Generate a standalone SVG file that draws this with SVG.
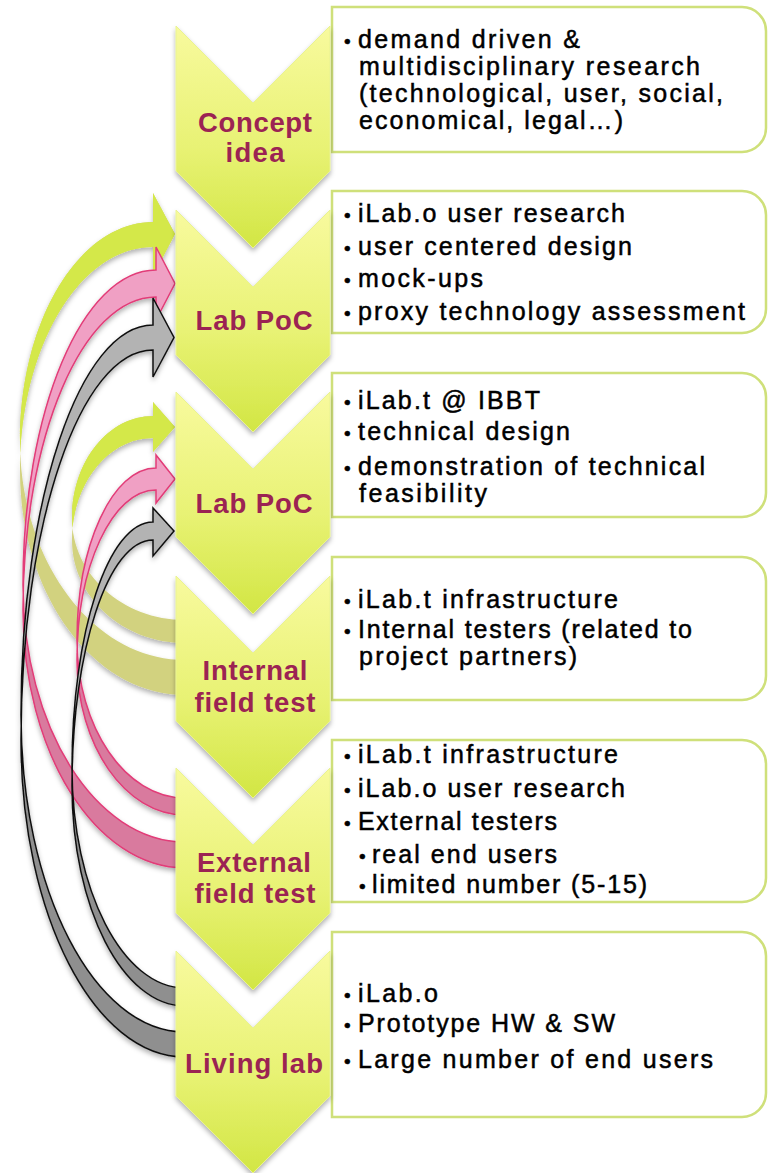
<svg xmlns="http://www.w3.org/2000/svg" xmlns:xlink="http://www.w3.org/1999/xlink" width="768" height="1173" viewBox="0 0 768 1173">
<defs>
<linearGradient id="chevFill" x1="0" y1="0" x2="0" y2="1">
<stop offset="0" stop-color="#f8fa9e"/>
<stop offset="0.55" stop-color="#e8f274"/>
<stop offset="1" stop-color="#d2e644"/>
</linearGradient>
<filter id="shadow" x="-20%" y="-20%" width="140%" height="140%">
<feDropShadow dx="0" dy="3" stdDeviation="2.5" flood-color="#000" flood-opacity="0.3"/>
</filter>
<clipPath id="cG1"><rect x="0" y="0" width="200" height="456"/></clipPath>
<clipPath id="cG2"><rect x="0" y="0" width="200" height="529"/></clipPath>
<clipPath id="cP1"><rect x="0" y="0" width="200" height="597"/></clipPath>
<clipPath id="cP2"><rect x="0" y="0" width="200" height="650"/></clipPath>
<clipPath id="cK1"><rect x="0" y="0" width="200" height="727"/></clipPath>
<clipPath id="cK2"><rect x="0" y="0" width="200" height="777"/></clipPath>
<path id="pG1" d="M153,222 C79.5,222 20,320 20,441 C20,562 93.9,660 185,660 L185,695 C93.9,695 20,594.7 20,471 C20,347.3 79.5,247 153,247 L153,276 L175,234 L153,193 Z"/>
<path id="pG2" d="M153,416 C108.3,416 72,461.7 72,518 C72,574.3 122.6,620 185,620 L185,643 C122.6,643 72,596.9 72,540 C72,483.7 108.3,438 153,438 L153,452 L175,427 L153,402 Z"/>
<path id="pP1" d="M156,270 C82.5,270 23,411 23,585 C23,726.9 95.5,842 185,842 L185,868 C95.5,868 23,752.5 23,610 C23,437.1 82.5,297 156,297 L156,320 L175,283.5 L156,247 Z"/>
<path id="pP2" d="M156,468 C112.4,468 77,545 77,640 C77,727.3 125.4,798 185,798 L185,815 C125.4,815 77,745.6 77,660 C77,566.1 112.4,490 156,490 L156,503 L175,479 L156,455 Z"/>
<path id="pK1" d="M153,325 C80.1,325 21,499.6 21,715 C21,890.1 94.4,1032 185,1032 L185,1057 C94.4,1057 21,915.1 21,740 C21,524.6 80.1,350 153,350 L153,377 L174,337.5 L153,298 Z"/>
<path id="pK2" d="M153,522 C108.3,522 72,632.1 72,768 C72,889.5 122.6,988 185,988 L185,1006 C122.6,1006 72,907.5 72,786 C72,650.1 108.3,540 153,540 L153,556 L174,531 L153,508 Z"/>
<style>
.box{fill:#ffffff;stroke:#cfe07a;stroke-width:2.5}
.chev{fill:url(#chevFill);stroke:#e9f392;stroke-width:1;filter:url(#shadow)}
.lab{font-family:"Liberation Sans",Arial,sans-serif;font-weight:bold;font-size:27.5px;fill:#9b2353;text-anchor:middle}
.t{font-family:"Liberation Sans",Arial,sans-serif;font-size:25px;fill:#000000;stroke:#000000;stroke-width:0.5}
.b{font-size:19px}
.gD{fill:#d2d27f}
.gL{fill:#d4e84a}
.pD{fill:#d97a9e}
.pL{fill:#f0a0c4}
.pS{fill:none;stroke:#e23c78;stroke-width:1.5}
.kD{fill:#8f8f8f}
.kL{fill:#b3b3b3}
.kS{fill:none;stroke:#111111;stroke-width:1.5}
</style>
</defs>
<rect width="768" height="1173" fill="#ffffff"/>

<g id="boxes">
<path id="box1" class="box" d="M332,7 H742 A24,24 0 0 1 766,31 V128 A24,24 0 0 1 742,152 H332 Z"/>
<path id="box2" class="box" d="M332,191 H742 A24,24 0 0 1 766,215 V309 A24,24 0 0 1 742,333 H332 Z"/>
<path id="box3" class="box" d="M332,373 H742 A24,24 0 0 1 766,397 V493 A24,24 0 0 1 742,517 H332 Z"/>
<path id="box4" class="box" d="M332,557 H742 A24,24 0 0 1 766,581 V676 A24,24 0 0 1 742,700 H332 Z"/>
<path id="box5" class="box" d="M332,740 H742 A24,24 0 0 1 766,764 V878 A24,24 0 0 1 742,902 H332 Z"/>
<path id="box6" class="box" d="M332,932 H742 A24,24 0 0 1 766,956 V1093 A24,24 0 0 1 742,1117 H332 Z"/>
</g>

<g id="box-texts">
<g id="text1">
<text class="t" y="48"><tspan class="b" x="344">•</tspan><tspan x="358" textLength="222" lengthAdjust="spacing">demand driven &amp;</tspan></text>
<text class="t" y="75"><tspan x="359" textLength="341" lengthAdjust="spacing">multidisciplinary research</tspan></text>
<text class="t" y="102"><tspan x="359" textLength="364" lengthAdjust="spacing">(technological, user, social,</tspan></text>
<text class="t" y="129"><tspan x="359" textLength="264" lengthAdjust="spacing">economical, legal…)</tspan></text>
</g>
<g id="text2">
<text class="t" y="222"><tspan class="b" x="344">•</tspan><tspan x="358" textLength="267" lengthAdjust="spacing">iLab.o user research</tspan></text>
<text class="t" y="255"><tspan class="b" x="344">•</tspan><tspan x="358" textLength="274" lengthAdjust="spacing">user centered design</tspan></text>
<text class="t" y="287"><tspan class="b" x="344">•</tspan><tspan x="358" textLength="125" lengthAdjust="spacing">mock-ups</tspan></text>
<text class="t" y="320"><tspan class="b" x="344">•</tspan><tspan x="358" textLength="387" lengthAdjust="spacing">proxy technology assessment</tspan></text>
</g>
<g id="text3">
<text class="t" y="409"><tspan class="b" x="344">•</tspan><tspan x="358" textLength="182" lengthAdjust="spacing">iLab.t @ IBBT</tspan></text>
<text class="t" y="440"><tspan class="b" x="344">•</tspan><tspan x="358" textLength="212" lengthAdjust="spacing">technical design</tspan></text>
<text class="t" y="475"><tspan class="b" x="344">•</tspan><tspan x="358" textLength="347" lengthAdjust="spacing">demonstration of technical</tspan></text>
<text class="t" y="502"><tspan x="359" textLength="128" lengthAdjust="spacing">feasibility</tspan></text>
</g>
<g id="text4">
<text class="t" y="608"><tspan class="b" x="344">•</tspan><tspan x="358" textLength="260" lengthAdjust="spacing">iLab.t infrastructure</tspan></text>
<text class="t" y="638"><tspan class="b" x="344">•</tspan><tspan x="358" textLength="334" lengthAdjust="spacing">Internal testers (related to</tspan></text>
<text class="t" y="665"><tspan x="359" textLength="218" lengthAdjust="spacing">project partners)</tspan></text>
</g>
<g id="text5">
<text class="t" y="763"><tspan class="b" x="344">•</tspan><tspan x="358" textLength="260" lengthAdjust="spacing">iLab.t infrastructure</tspan></text>
<text class="t" y="797"><tspan class="b" x="344">•</tspan><tspan x="358" textLength="267" lengthAdjust="spacing">iLab.o user research</tspan></text>
<text class="t" y="830"><tspan class="b" x="344">•</tspan><tspan x="358" textLength="199" lengthAdjust="spacing">External testers</tspan></text>
<text class="t" y="863"><tspan class="b" x="359">•</tspan><tspan x="372" textLength="185" lengthAdjust="spacing">real end users</tspan></text>
<text class="t" y="893"><tspan class="b" x="359">•</tspan><tspan x="372" textLength="275" lengthAdjust="spacing">limited number (5-15)</tspan></text>
</g>
<g id="text6">
<text class="t" y="1002"><tspan class="b" x="344">•</tspan><tspan x="358" textLength="80" lengthAdjust="spacing">iLab.o</tspan></text>
<text class="t" y="1032"><tspan class="b" x="344">•</tspan><tspan x="358" textLength="257" lengthAdjust="spacing">Prototype HW &amp; SW</tspan></text>
<text class="t" y="1068"><tspan class="b" x="344">•</tspan><tspan x="358" textLength="355" lengthAdjust="spacing">Large number of end users</tspan></text>
</g>
</g>

<g id="connectors" filter="url(#shadow)">
<g id="arrow-internal-to-labpoc1">
<use xlink:href="#pG1" class="gD"/>
<use xlink:href="#pG1" class="gL" clip-path="url(#cG1)"/>
</g>
<g id="arrow-internal-to-labpoc2">
<use xlink:href="#pG2" class="gD"/>
<use xlink:href="#pG2" class="gL" clip-path="url(#cG2)"/>
</g>
<g id="arrow-external-to-labpoc1">
<use xlink:href="#pP1" class="pD"/>
<use xlink:href="#pP1" class="pL" clip-path="url(#cP1)"/>
<use xlink:href="#pP1" class="pS"/>
</g>
<g id="arrow-external-to-labpoc2">
<use xlink:href="#pP2" class="pD"/>
<use xlink:href="#pP2" class="pL" clip-path="url(#cP2)"/>
<use xlink:href="#pP2" class="pS"/>
</g>
<g id="arrow-living-to-labpoc1">
<use xlink:href="#pK1" class="kD"/>
<use xlink:href="#pK1" class="kL" clip-path="url(#cK1)"/>
<use xlink:href="#pK1" class="kS"/>
</g>
<g id="arrow-living-to-labpoc2">
<use xlink:href="#pK2" class="kD"/>
<use xlink:href="#pK2" class="kL" clip-path="url(#cK2)"/>
<use xlink:href="#pK2" class="kS"/>
</g>
</g>

<g id="concept-idea">
<polygon class="chev" points="176,26 253,103 330,26 330,171 253,248 176,171"/>
<text class="lab" x="255" y="132" textLength="114" lengthAdjust="spacing">Concept</text>
<text class="lab" x="255" y="162" textLength="59" lengthAdjust="spacing">idea</text>
</g>
<g id="lab-poc-1">
<polygon class="chev" points="176,210 253,287 330,210 330,355 253,432 176,355"/>
<text class="lab" x="254" y="330" textLength="117" lengthAdjust="spacing">Lab PoC</text>
</g>
<g id="lab-poc-2">
<polygon class="chev" points="176,392 253,469 330,392 330,537 253,614 176,537"/>
<text class="lab" x="254" y="513" textLength="117" lengthAdjust="spacing">Lab PoC</text>
</g>
<g id="internal-field-test">
<polygon class="chev" points="176,576 253,653 330,576 330,721 253,798 176,721"/>
<text class="lab" x="255" y="680" textLength="105" lengthAdjust="spacing">Internal</text>
<text class="lab" x="255" y="712" textLength="121" lengthAdjust="spacing">field test</text>
</g>
<g id="external-field-test">
<polygon class="chev" points="176,768 253,845 330,768 330,913 253,990 176,913"/>
<text class="lab" x="254" y="872" textLength="114" lengthAdjust="spacing">External</text>
<text class="lab" x="255" y="903" textLength="121" lengthAdjust="spacing">field test</text>
</g>
<g id="living-lab">
<polygon class="chev" points="176,951 253,1028 330,951 330,1096 253,1173 176,1096"/>
<text class="lab" x="254" y="1073" textLength="138" lengthAdjust="spacing">Living lab</text>
</g>
</svg>
